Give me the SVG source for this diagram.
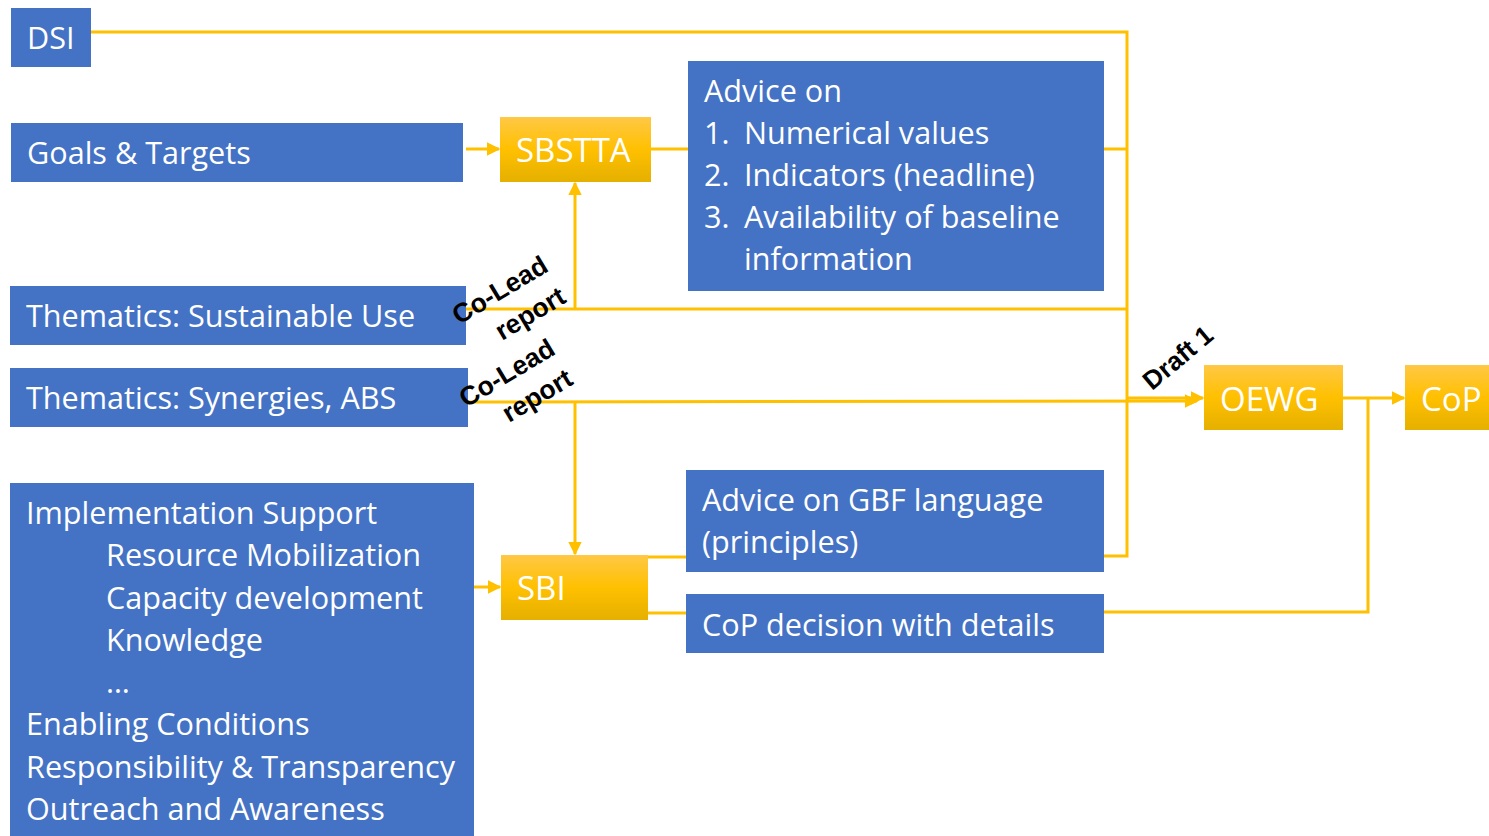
<svg xmlns="http://www.w3.org/2000/svg" width="1489" height="836" viewBox="0 0 1489 836">
<defs>
<linearGradient id="gold" x1="0" y1="0" x2="0" y2="1">
<stop offset="0" stop-color="#FFC846"/>
<stop offset="0.5" stop-color="#FFC000"/>
<stop offset="1" stop-color="#E5B000"/>
</linearGradient>
<marker id="arr" viewBox="0 0 10 10" refX="9" refY="5" markerWidth="4.5" markerHeight="4.5" orient="auto" markerUnits="strokeWidth">
<path d="M0,0 L10,5 L0,10 z" fill="#FFC000"/>
</marker>
</defs>
<style>
.b{fill:#4472C4}
.g{fill:url(#gold)}
.t{font-family:"Open Sans","Noto Sans","Liberation Sans",sans-serif;fill:#fff;font-size:30.6px}
.tg{font-family:"Open Sans","Noto Sans","Liberation Sans",sans-serif;fill:#fff;font-size:33px}
.c{fill:none;stroke:#FFC000;stroke-width:3}
.l{font-family:"Liberation Sans",Arial,sans-serif;font-weight:bold;font-size:26.5px;fill:#000}
</style>
<rect width="1489" height="836" fill="#fff"/>
<g id="connectors">
<polyline class="c" points="91,32 1127,32 1127,556 1104,556"/>
<line class="c" x1="466" y1="149" x2="499" y2="149" marker-end="url(#arr)"/>
<line class="c" x1="651" y1="149" x2="688" y2="149"/>
<line class="c" x1="1104" y1="149" x2="1127" y2="149"/>
<line class="c" x1="466" y1="309" x2="1127" y2="309"/>
<line class="c" x1="575" y1="309" x2="575" y2="183" marker-end="url(#arr)"/>
<line class="c" x1="468" y1="402" x2="1197" y2="401" marker-end="url(#arr)"/>
<line class="c" x1="1127" y1="398" x2="1203" y2="398" marker-end="url(#arr)"/>
<line class="c" x1="575" y1="402" x2="575" y2="554" marker-end="url(#arr)"/>
<line class="c" x1="474" y1="587" x2="500" y2="587" marker-end="url(#arr)"/>
<line class="c" x1="648" y1="557" x2="686" y2="557"/>
<line class="c" x1="648" y1="613" x2="686" y2="613"/>
<polyline class="c" points="1104,612 1368,612 1368,398"/>
<line class="c" x1="1343" y1="398" x2="1404" y2="398" marker-end="url(#arr)"/>
</g>
<g id="dsi"><rect class="b" x="11" y="8" width="80" height="59"/><text class="t" x="27" y="49">DSI</text></g>
<g id="goals"><rect class="b" x="11" y="123" width="452" height="59"/><text class="t" x="27" y="164">Goals &amp; Targets</text></g>
<g id="sbstta"><rect class="g" x="500" y="117" width="151" height="65"/><text class="tg" x="516" y="162">SBSTTA</text></g>
<g id="advice1"><rect class="b" x="688" y="61" width="416" height="230"/>
<text class="t" x="704" y="102">Advice on</text>
<text class="t" x="704" y="144">1.</text><text class="t" x="744" y="144">Numerical values</text>
<text class="t" x="704" y="186">2.</text><text class="t" x="744" y="186">Indicators (headline)</text>
<text class="t" x="704" y="228">3.</text><text class="t" x="744" y="228">Availability of baseline</text>
<text class="t" x="744" y="270">information</text>
</g>
<g id="sustainable"><rect class="b" x="10" y="286" width="456" height="59"/><text class="t" x="26" y="327">Thematics: Sustainable Use</text></g>
<g id="synergies"><rect class="b" x="10" y="368" width="458" height="59"/><text class="t" x="26" y="409">Thematics: Synergies, ABS</text></g>
<g id="impl"><rect class="b" x="10" y="483" width="464" height="353"/>
<text class="t" x="26" y="524">Implementation Support</text>
<text class="t" x="106" y="566">Resource Mobilization</text>
<text class="t" x="106" y="609">Capacity development</text>
<text class="t" x="106" y="651">Knowledge</text>
<text class="t" x="106" y="693">…</text>
<text class="t" x="26" y="735">Enabling Conditions</text>
<text class="t" x="26" y="778">Responsibility &amp; Transparency</text>
<text class="t" x="26" y="820">Outreach and Awareness</text>
</g>
<g id="sbi"><rect class="g" x="501" y="555" width="147" height="65"/><text class="tg" x="517" y="600">SBI</text></g>
<g id="advice2"><rect class="b" x="686" y="470" width="418" height="102"/>
<text class="t" x="702" y="511">Advice on GBF language</text>
<text class="t" x="702" y="553">(principles)</text>
</g>
<g id="copdec"><rect class="b" x="686" y="594" width="418" height="59"/><text class="t" x="702" y="636">CoP decision with details</text></g>
<g id="oewg"><rect class="g" x="1204" y="365" width="139" height="65"/><text class="tg" x="1220" y="411">OEWG</text></g>
<g id="cop"><rect class="g" x="1405" y="365" width="84" height="65"/><text class="tg" x="1421" y="411">CoP</text></g>
<g id="labels">
<text class="l" transform="translate(459,325) rotate(-31)">Co-Lead</text>
<text class="l" transform="translate(502,341) rotate(-31)">report</text>
<text class="l" transform="translate(466,408) rotate(-31)">Co-Lead</text>
<text class="l" transform="translate(509,423) rotate(-31)">report</text>
<text class="l" transform="translate(1152,391) rotate(-40)" style="font-size:26px">Draft 1</text>
</g>
</svg>
